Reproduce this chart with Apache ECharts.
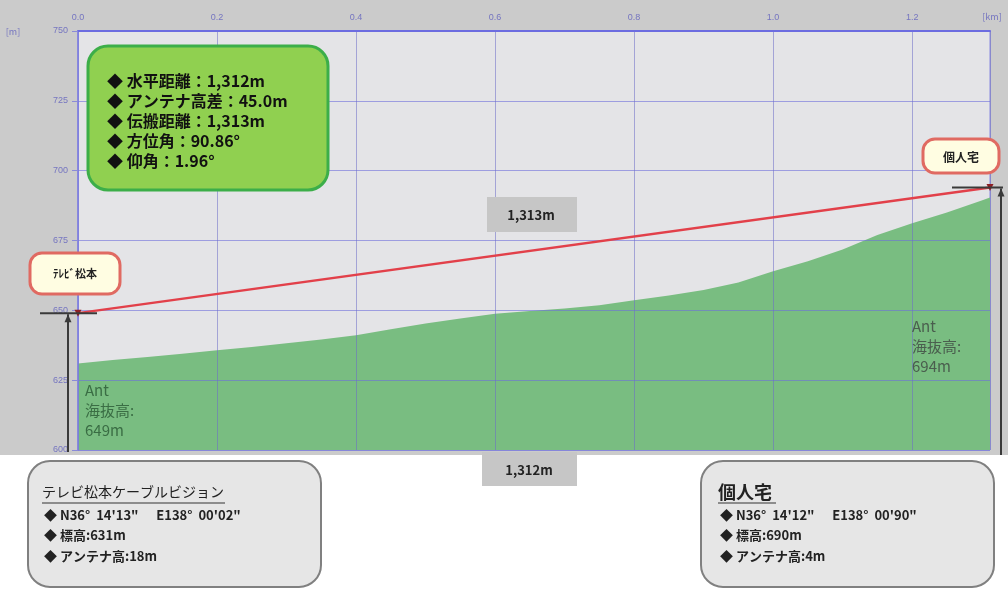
<!DOCTYPE html>
<html><head><meta charset="utf-8">
<script src="https://cdn.jsdelivr.net/npm/echarts@6/dist/echarts.min.js"></script>
<style>
html,body{margin:0;padding:0;background:#fff}
#c{width:1008px;height:595px;background:linear-gradient(#cbcbcb 0,#cbcbcb 455px,#ffffff 455px)}
</style>
</head><body><div id="c"></div>
<script>
// ---- data ----
const profileKm   = [0, 0.05, 0.10, 0.15, 0.20, 0.25, 0.30, 0.35, 0.40, 0.45, 0.50, 0.55, 0.60, 0.65, 0.70, 0.75, 0.80, 0.85, 0.90, 0.95, 1.00, 1.05, 1.10, 1.15, 1.20, 1.25, 1.30, 1.312];
const profileElev = [631, 632.2, 633.3, 634.5, 635.7, 636.9, 638.2, 639.6, 641.1, 643.2, 645.3, 647.1, 648.8, 649.8, 650.7, 651.8, 653.6, 655.3, 657.3, 660.0, 664.0, 667.6, 671.8, 677.0, 681.2, 685.0, 689.3, 690.4];
const siteNames     = ['テレビ松本ケーブルビジョン', '個人宅'];
const siteShort     = ['ﾃﾚﾋﾞ松本', '個人宅'];
const siteLat       = ['N36°  14\'13"', 'N36°  14\'12"'];
const siteLon       = ['E138°  00\'02"', 'E138°  00\'90"'];
const siteElevation = [631, 690];
const antennaHeight = [18, 4];
const siteKm        = [0, 1.312];
const summaryLabels = ['水平距離', 'アンテナ高差', '伝搬距離', '方位角', '仰角'];
const summaryValues = ['1,312m', '45.0m', '1,313m', '90.86°', '1.96°'];
const horizDistLabel = '1,312m';
const pathDistLabel  = '1,313m';
const yMin = 600, yMax = 750, yStep = 25;
const xMin = 0, xMax = 1.312, xStep = 0.2;

const antTop = siteElevation.map((e, i) => e + antennaHeight[i]);
const JP = '"Noto Sans CJK JP", "Noto Sans", sans-serif';

const chart = echarts.init(document.getElementById('c'), null, {renderer: 'canvas'});

const graphics = [];
function rrect(x, y, w, h, r, fill, stroke, lw, z) {
  graphics.push({type: 'rect', z: z || 10, shape: {x, y, width: w, height: h, r}, style: {fill, stroke, lineWidth: lw}});
}
function txt(x, y, text, font, fill, align, z) {
  graphics.push({type: 'text', z: z || 11, style: {x, y, text, font, fill, textAlign: align || 'left', textVerticalAlign: 'middle'}});
}
function seg(x1, y1, x2, y2, stroke, lw, z) {
  graphics.push({type: 'line', z: z || 9, shape: {x1, y1, x2, y2}, style: {stroke, lineWidth: lw}});
}

// axis unit labels
txt(13, 32, '[m]', '9px ' + JP, '#7575c0', 'center');
txt(992, 17, '[km]', '9px ' + JP, '#7575c0', 'center');

// summary green box
rrect(88, 46, 240, 144, 20, '#90d050', '#3cae49', 3);
summaryLabels.forEach((l, i) => {
  txt(107, 81 + i * 20, '◆ ' + l + '：' + summaryValues[i], 'bold 16px ' + JP, '#111', 'left');
});

// distance tags
rrect(487, 197, 90, 35, 0, '#c6c6c6', null, 0);
txt(531, 215, pathDistLabel, 'bold 13px ' + JP, '#222', 'center');
rrect(482, 452, 95, 34, 0, '#c6c6c6', null, 0);
txt(529, 470, horizDistLabel, 'bold 13px ' + JP, '#222', 'center');

// callouts
rrect(30, 253, 90, 41, 12, '#fffde2', '#e06a62', 3);
txt(75, 274, siteShort[0], 'bold 11px ' + JP, '#222', 'center');
rrect(923, 139, 76, 34, 12, '#fffde2', '#e06a62', 3);
txt(961, 157, siteShort[1], 'bold 12px ' + JP, '#222', 'center');

// Ant labels
['Ant', '海抜高:', antTop[0] + 'm'].forEach((t, i) => txt(85, 390 + i * 20, t, '15px ' + JP, '#3a6d44', 'left'));
['Ant', '海抜高:', antTop[1] + 'm'].forEach((t, i) => txt(912, 326 + i * 20, t, '15px ' + JP, '#4a5e4e', 'left'));

// site info boxes
const boxX = [28, 701];
boxX.forEach((bx, i) => {
  rrect(bx, 461, 293, 126, 22, '#e6e6e6', '#808080', 2);
  const tx = bx + (i === 0 ? 14 : 17);
  const tf = i === 0 ? '14px ' + JP : 'bold 18px ' + JP;
  txt(tx, 492, siteNames[i], tf, '#222', 'left');
  const uw = i === 0 ? 183 : 58;
  seg(tx, 503, tx + uw, 503, '#333', 1.2, 12);
  txt(tx + 2, 515, '◆ ' + siteLat[i] + '      ' + siteLon[i], 'bold 13px ' + JP, '#222', 'left');
  txt(tx + 2, 535, '◆ 標高:' + siteElevation[i] + 'm', 'bold 13px ' + JP, '#222', 'left');
  txt(tx + 2, 556, '◆ アンテナ高:' + antennaHeight[i] + 'm', 'bold 13px ' + JP, '#222', 'left');
});

chart.setOption({
  animation: false,
  grid: {left: 78, right: 18, top: 31, bottom: 145, show: true, backgroundColor: '#e4e4e7', borderColor: '#8a8ae0', borderWidth: 1},
  xAxis: {
    type: 'value', position: 'top', min: xMin, max: xMax, interval: xStep, z: 3,
    axisLine: {show: true, lineStyle: {color: '#6c6ce0', width: 2}},
    axisTick: {show: false},
    axisLabel: {color: '#7575c0', fontSize: 9, margin: 9, showMaxLabel: false, formatter: v => v.toFixed(1)},
    splitLine: {show: true, lineStyle: {color: 'rgba(110,110,200,0.55)', width: 1}}
  },
  yAxis: {
    type: 'value', min: yMin, max: yMax, interval: yStep, z: 3,
    axisLine: {show: true, lineStyle: {color: '#7c7ce0', width: 1.5}},
    axisTick: {show: true, length: 6, lineStyle: {color: '#8a8ad8'}},
    axisLabel: {color: '#7575c0', fontSize: 9, margin: 10},
    splitLine: {show: true, lineStyle: {color: 'rgba(110,110,220,0.6)', width: 1}}
  },
  series: [
    {
      type: 'line', z: 2, silent: true, symbol: 'none',
      data: profileKm.map((x, i) => [x, profileElev[i]]),
      lineStyle: {width: 0}, areaStyle: {color: '#79bd81', opacity: 1, origin: 'start'}
    },
    {
      type: 'line', z: 6, silent: true, clip: false,
      data: siteKm.map((x, i) => ({value: [x, antTop[i]], symbol: 'triangle', symbolSize: 7, symbolRotate: 180})),
      lineStyle: {color: '#e2404a', width: 2.5}, itemStyle: {color: '#8e1f24'}
    }
  ]
});

// antenna markers, positioned through the chart's own scales
const px = (x, y) => chart.convertToPixel({gridIndex: 0}, [x, y]);
const mc = '#3a3a3a';
const L = px(siteKm[0], antTop[0]), L0 = px(siteKm[0], yMin);
const R = px(siteKm[1], antTop[1]), R0 = px(siteKm[1], yMin);
seg(L[0] - 38, L[1], L[0] + 19, L[1], mc, 2);
seg(L[0] - 10, L[1] + 1, L[0] - 10, L0[1] + 2, mc, 2);
graphics.push({type: 'polygon', z: 9, shape: {points: [[L[0] - 10, L[1] + 1], [L[0] - 13.5, L[1] + 9], [L[0] - 6.5, L[1] + 9]]}, style: {fill: mc}});
seg(R[0] - 38, R[1], R[0] + 13, R[1], mc, 2);
seg(R[0] + 11, R[1] + 1, R[0] + 11, R0[1] + 5, mc, 2);
graphics.push({type: 'polygon', z: 9, shape: {points: [[R[0] + 11, R[1] + 1], [R[0] + 7.5, R[1] + 9], [R[0] + 14.5, R[1] + 9]]}, style: {fill: mc}});

chart.setOption({graphic: {elements: graphics}});
</script>
</body></html>
